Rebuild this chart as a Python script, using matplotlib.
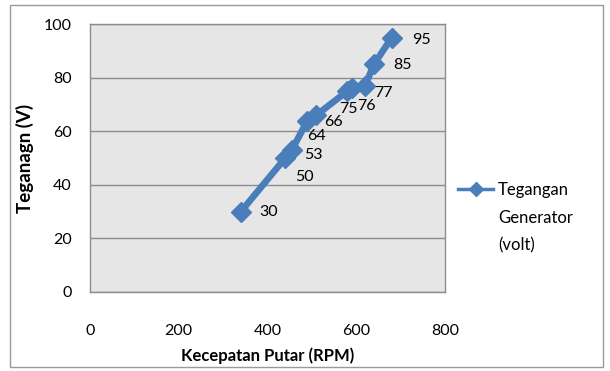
import matplotlib
matplotlib.use("Agg")
import matplotlib.pyplot as plt
from matplotlib.lines import Line2D
from matplotlib.patches import Rectangle

# data
rpm = [340, 440, 455, 490, 510, 580, 590, 620, 640, 680]
volt = [30, 50, 53, 64, 66, 75, 76, 77, 85, 95]
# where each value label sits relative to its point (pixels)
label_off = [(28, 0), (19, -19), (21, -5), (9, -15), (17, -7),
             (1, -18), (15, -18), (18, -7), (29, -1), (30, -2)]

xticks = [0, 200, 400, 600, 800]
yticks = [0, 20, 40, 60, 80, 100]
legend_lines = ['Tegangan', 'Generator', '(volt)']

plt.rcParams['font.family'] = ['Lato', 'DejaVu Sans']

fig = plt.figure(figsize=(6.1, 3.71), dpi=100)
ax = fig.add_axes([0.1475, 0.213, 0.582, 0.722])

ax.set_facecolor('#e6e6e6')
for s in ax.spines.values():
    s.set_color('#8c8c8c')
    s.set_linewidth(1)

ax.set_xlim(0, 800)
ax.set_ylim(0, 100)
ax.set_xticks(xticks)
ax.set_yticks(yticks)
ax.yaxis.grid(True, color='#8c8c8c', linewidth=1)
ax.set_axisbelow(True)
ax.tick_params(axis='x', length=0, pad=23, labelsize=11.5)
ax.tick_params(axis='y', length=0, pad=13, labelsize=11.5)

line, = ax.plot(rpm, volt, color='#4a7ebb', linewidth=4.8, marker='D',
                markersize=10.5)

for x, y, (dx, dy) in zip(rpm, volt, label_off):
    ax.annotate(str(y), (x, y), xytext=(dx, dy), textcoords='offset pixels',
                ha='center', va='center', fontsize=11.5)

ax.set_xlabel('Kecepatan Putar (RPM)', fontweight='bold', fontsize=12, labelpad=7)
ax.set_ylabel('Teganagn (V)', fontweight='bold', fontsize=13.5, labelpad=7)

# legend: handle on the first line only, label wraps over three lines
key = Line2D([], [], color='#4a7ebb', linewidth=2.5, marker='D', markersize=7)
blank = Line2D([], [], linestyle='none')
leg = ax.legend([key, blank, blank], legend_lines, loc='upper left',
                bbox_to_anchor=(458 / 610, 1 - 182 / 371),
                bbox_transform=fig.transFigure, frameon=False, fontsize=12,
                handlelength=2.1, handletextpad=0.3, borderpad=0,
                borderaxespad=0, labelspacing=0.7)

fig.patches.append(Rectangle((0.016, 0.011), 0.972, 0.976, transform=fig.transFigure,
                             fill=False, edgecolor='#9a9a9a', linewidth=1))

fig.savefig('out.png', dpi=100)
